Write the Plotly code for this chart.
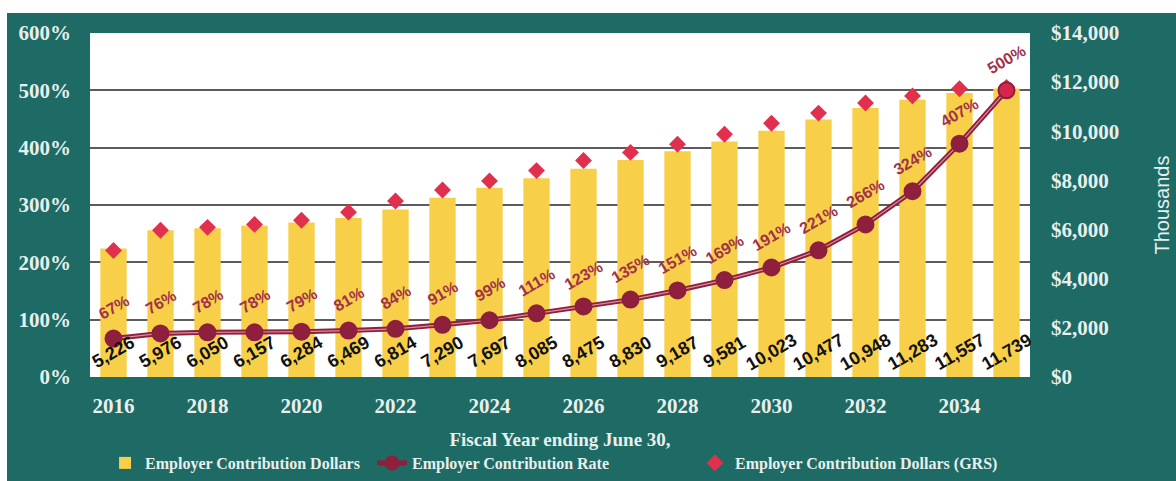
import plotly.graph_objects as go

# Fiscal years ending June 30
years = list(range(2016, 2036))

# Employer contribution dollars (thousands)
contrib_dollars = [5226, 5976, 6050, 6157, 6284, 6469, 6814, 7290, 7697, 8085,
                   8475, 8830, 9187, 9581, 10023, 10477, 10948, 11283, 11557, 11739]

# Employer contribution rate (% of payroll)
contrib_rate = [67, 76, 78, 78, 79, 81, 84, 91, 99, 111,
                123, 135, 151, 169, 191, 221, 266, 324, 407, 500]

# Employer contribution dollars under GRS projection (thousands)
grs_dollars = [5150, 5970, 6090, 6210, 6380, 6710, 7160, 7610, 7980, 8400,
               8810, 9140, 9470, 9880, 10330, 10740, 11150, 11440, 11730, 11780]

# Axis tick values
rate_ticks = [0, 100, 200, 300, 400, 500, 600]
dollar_ticks = [0, 2000, 4000, 6000, 8000, 10000, 12000, 14000]

TEAL = "#1e6a65"
GOLD = "#f8cf48"
MAROON = "#8e1f3d"
LABEL_RED = "#a1324a"
PALE = "#e8efec"
SERIF = "Liberation Serif"
SANS = "Liberation Sans"

fig = go.Figure()

# dollars live on the base axis (right side), rates on the overlay (left side)
fig.add_trace(go.Bar(
    x=years, y=contrib_dollars, yaxis="y",
    name="Employer Contribution Dollars",
    marker=dict(color=GOLD, line=dict(width=0)),
    width=0.56, legend="legend",
))

fig.add_trace(go.Scatter(
    x=years, y=grs_dollars, yaxis="y", mode="markers",
    name="Employer Contribution Dollars (GRS)",
    marker=dict(symbol="diamond", size=13, color="#e0304e"),
    legend="legend3",
))

fig.add_trace(go.Scatter(
    x=years, y=contrib_rate, yaxis="y2", mode="lines+markers",
    name="Employer Contribution Rate",
    line=dict(color=MAROON, width=5),
    marker=dict(symbol="circle", size=15, color=MAROON),
    legend="legend2",
))

# lighter stripe along the rate line
fig.add_trace(go.Scatter(
    x=years, y=contrib_rate, yaxis="y2", mode="lines", showlegend=False,
    hoverinfo="skip", line=dict(color="#d98c9a", width=1.2),
))

# rate markers on top of the stripe; the final year highlighted
marker_fill = [MAROON] * (len(years) - 1) + ["#d8244a"]
fig.add_trace(go.Scatter(
    x=years, y=contrib_rate, yaxis="y2", mode="markers", showlegend=False,
    hoverinfo="skip",
    marker=dict(symbol="circle", size=16, color=marker_fill,
                line=dict(color=MAROON, width=2)),
))

annotations = []
for yr, rate in zip(years, contrib_rate):
    annotations.append(dict(
        x=yr, y=rate, xref="x", yref="y2", yshift=31,
        text=f"{rate}%", showarrow=False, textangle=-30,
        font=dict(family=SANS, size=16, color=LABEL_RED, weight="bold"),
    ))
for yr, val in zip(years, contrib_dollars):
    annotations.append(dict(
        x=yr, y=1000, xref="x", yref="y",
        text=f"{val:,}", showarrow=False, textangle=-30,
        font=dict(family=SANS, size=18, color="#111111", weight="bold"),
    ))

tick_font = dict(family=SERIF, size=21, color=PALE, weight="bold")
legend_font = dict(family=SERIF, size=16, color=PALE, weight="bold")
legend_common = dict(orientation="h", yanchor="middle", y=-0.25, xanchor="left",
                     bgcolor="rgba(0,0,0,0)", font=legend_font, borderwidth=0)

fig.update_layout(
    width=1176, height=481,
    margin=dict(l=90, r=146, t=33, b=104, autoexpand=False),
    paper_bgcolor=TEAL, plot_bgcolor="white",
    annotations=annotations,
    xaxis=dict(
        range=[2015.5, 2035.5], tickmode="array",
        tickvals=years[::2], ticktext=[str(y) for y in years[::2]],
        tickfont=tick_font, showgrid=False, zeroline=False, showline=False,
        ticks="", ticklabelstandoff=14,
        title=dict(text="Fiscal Year ending June 30,", standoff=15,
                   font=dict(family=SERIF, size=19, color=PALE, weight="bold")),
    ),
    yaxis=dict(
        range=[0, 14000], side="right", tickmode="array",
        tickvals=dollar_ticks, ticktext=[f"${t:,}" for t in dollar_ticks],
        tickfont=tick_font, showgrid=False, zeroline=False, showline=False,
        ticks="", ticklabelstandoff=20,
        title=dict(text="Thousands", standoff=36,
                   font=dict(family=SANS, size=20, color=PALE)),
    ),
    yaxis2=dict(
        range=[0, 600], overlaying="y", side="left", tickmode="array",
        tickvals=rate_ticks, ticktext=[f"{t}%" for t in rate_ticks],
        tickfont=tick_font, showgrid=True, gridcolor="#5c5c5c", gridwidth=1.5,
        zeroline=False, showline=False, ticks="", ticklabelstandoff=18,
    ),
    legend=dict(x=0.016, **legend_common),
    legend2=dict(x=0.300, **legend_common),
    legend3=dict(x=0.6436, **legend_common),
    shapes=[
        dict(type="rect", xref="paper", yref="paper", x0=-0.2, x1=1.3,
             y0=1.058, y1=1.2, fillcolor="white", line=dict(width=0), layer="below"),
        dict(type="rect", xref="paper", yref="paper", x0=-0.2, x1=-0.0883,
             y0=-0.5, y1=1.2, fillcolor="white", line=dict(width=0), layer="below"),
    ],
)

fig.write_html("out.html")
